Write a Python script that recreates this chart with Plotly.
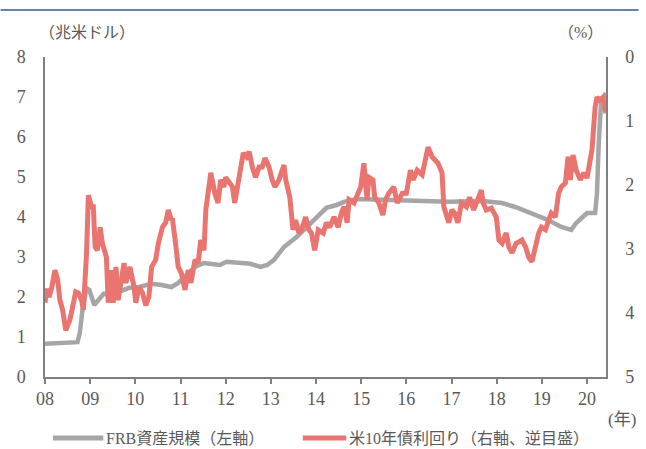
import plotly.graph_objects as go

# FRB total assets (trillion USD)
frb_year = [2008.00, 2008.40, 2008.72, 2008.77, 2008.83, 2008.92, 2008.98, 2009.09, 2009.16, 2009.30,
            2009.46, 2009.64, 2009.86, 2010.08, 2010.36, 2010.58, 2010.80, 2010.95, 2011.10, 2011.32,
            2011.52, 2011.87, 2012.02, 2012.26, 2012.55, 2012.77, 2012.92, 2013.07, 2013.29, 2013.57,
            2013.79, 2014.01, 2014.23, 2014.45, 2014.62, 2014.91, 2015.50, 2016.22, 2016.94, 2017.68,
            2018.12, 2018.41, 2018.78, 2019.13, 2019.43, 2019.65, 2019.76, 2019.87, 2020.00, 2020.18,
            2020.22, 2020.26, 2020.31, 2020.42]
frb_assets = [0.83, 0.84, 0.87, 1.10, 1.68, 2.22, 2.18, 1.80, 1.90, 2.08,
              2.05, 2.13, 2.23, 2.25, 2.33, 2.30, 2.25, 2.35, 2.50, 2.75,
              2.85, 2.80, 2.88, 2.85, 2.83, 2.75, 2.80, 2.93, 3.25, 3.50,
              3.75, 4.00, 4.23, 4.30, 4.38, 4.45, 4.43, 4.40, 4.38, 4.40,
              4.35, 4.25, 4.10, 3.93, 3.75, 3.68, 3.85, 3.98, 4.10, 4.10,
              4.60, 5.85, 6.85, 7.10]

# US 10-year Treasury yield (%)
ust_year = [2008.00, 2008.04, 2008.09, 2008.15, 2008.22, 2008.28, 2008.33, 2008.39, 2008.46, 2008.55,
            2008.61, 2008.68, 2008.74, 2008.81, 2008.85, 2008.92, 2008.96, 2009.03, 2009.07, 2009.11,
            2009.16, 2009.22, 2009.27, 2009.36, 2009.40, 2009.46, 2009.51, 2009.57, 2009.62, 2009.68,
            2009.75, 2009.79, 2009.88, 2009.97, 2010.01, 2010.08, 2010.16, 2010.23, 2010.30, 2010.36,
            2010.45, 2010.51, 2010.60, 2010.67, 2010.73, 2010.80, 2010.82, 2010.89, 2010.95, 2011.02,
            2011.10, 2011.17, 2011.23, 2011.32, 2011.39, 2011.45, 2011.52, 2011.56, 2011.63, 2011.67,
            2011.76, 2011.83, 2011.89, 2011.96, 2012.00, 2012.09, 2012.15, 2012.20, 2012.26, 2012.33,
            2012.39, 2012.46, 2012.52, 2012.59, 2012.66, 2012.74, 2012.81, 2012.87, 2012.96, 2013.03,
            2013.09, 2013.18, 2013.22, 2013.29, 2013.33, 2013.42, 2013.49, 2013.55, 2013.62, 2013.68,
            2013.77, 2013.84, 2013.90, 2013.97, 2014.05, 2014.16, 2014.23, 2014.30, 2014.40, 2014.49,
            2014.56, 2014.62, 2014.69, 2014.73, 2014.84, 2014.93, 2014.99, 2015.06, 2015.13, 2015.17,
            2015.26, 2015.30, 2015.39, 2015.48, 2015.54, 2015.61, 2015.72, 2015.80, 2015.91, 2016.00,
            2016.09, 2016.15, 2016.24, 2016.35, 2016.42, 2016.48, 2016.57, 2016.63, 2016.70, 2016.79,
            2016.83, 2016.90, 2016.94, 2017.01, 2017.07, 2017.14, 2017.22, 2017.33, 2017.40, 2017.49,
            2017.57, 2017.66, 2017.70, 2017.77, 2017.88, 2017.99, 2018.05, 2018.12, 2018.21, 2018.27,
            2018.34, 2018.43, 2018.49, 2018.56, 2018.64, 2018.71, 2018.78, 2018.86, 2018.93, 2018.99,
            2019.08, 2019.15, 2019.21, 2019.30, 2019.37, 2019.43, 2019.52, 2019.58, 2019.63, 2019.69,
            2019.76, 2019.85, 2019.93, 2020.00, 2020.07, 2020.11, 2020.18, 2020.22, 2020.28, 2020.35,
            2020.42]
ust_yield = [3.84, 3.62, 3.75, 3.60, 3.33, 3.48, 3.80, 3.95, 4.27, 4.11,
             3.91, 3.67, 3.69, 3.80, 3.95, 3.06, 2.16, 2.34, 2.34, 2.97,
             3.02, 2.66, 2.91, 3.13, 3.84, 3.33, 3.84, 3.28, 3.80, 3.48,
             3.22, 3.53, 3.28, 3.59, 3.84, 3.59, 3.69, 3.88, 3.75, 3.28,
             3.17, 2.91, 2.66, 2.59, 2.39, 2.55, 2.52, 2.91, 3.28, 3.38,
             3.64, 3.33, 3.53, 3.17, 3.22, 2.86, 3.02, 2.39, 2.08, 1.81,
             2.13, 2.28, 1.92, 2.03, 1.88, 1.97, 2.03, 2.28, 2.03, 1.77,
             1.50, 1.56, 1.48, 1.72, 1.88, 1.72, 1.72, 1.58, 1.72, 1.92,
             2.03, 1.92, 1.81, 1.69, 1.92, 2.19, 2.70, 2.55, 2.75, 2.70,
             2.50, 2.70, 2.75, 3.02, 2.70, 2.75, 2.59, 2.66, 2.50, 2.66,
             2.44, 2.34, 2.59, 2.23, 2.28, 2.13, 2.03, 1.66, 2.23, 1.88,
             1.92, 2.19, 2.28, 2.47, 2.23, 2.13, 2.03, 2.28, 2.13, 2.13,
             1.77, 1.92, 1.77, 1.84, 1.61, 1.41, 1.56, 1.61, 1.66, 1.81,
             2.34, 2.50, 2.59, 2.39, 2.44, 2.59, 2.28, 2.34, 2.19, 2.39,
             2.23, 2.08, 2.28, 2.39, 2.36, 2.50, 2.86, 2.91, 2.75, 2.97,
             3.06, 2.91, 2.89, 2.86, 2.97, 3.13, 3.20, 2.97, 2.75, 2.66,
             2.70, 2.55, 2.44, 2.50, 2.13, 2.03, 1.97, 1.56, 1.92, 1.53,
             1.77, 1.92, 1.81, 1.89, 1.56, 1.45, 0.78, 0.63, 0.67, 0.63,
             0.88]

year_ticks = [2008, 2009, 2010, 2011, 2012, 2013, 2014, 2015, 2016, 2017, 2018, 2019, 2020]
year_labels = ["08", "09", "10", "11", "12", "13", "14", "15", "16", "17", "18", "19", "20"]

series_names = ["FRB資産規模（左軸）", "米10年債利回り（右軸、逆目盛）"]
series_colors = ["#A6A6A6", "#E97470"]

FONT = "Liberation Serif, Noto Sans CJK JP, serif"
TXT = "#595959"
AX = "#808080"

# plot area geometry (pixels) for placing decorations
W, H = 646, 449
L, R, T, B = 45, 33, 57, 72
PW, PH = W - L - R, H - T - B


def px(xp):
    return (xp - L) / PW


def py(yp):
    return (H - B - yp) / PH


fig = go.Figure()
fig.add_trace(go.Scatter(x=frb_year, y=frb_assets, mode="lines", name=series_names[0],
                         line=dict(color=series_colors[0], width=4.5), yaxis="y"))
fig.add_trace(go.Scatter(x=ust_year, y=ust_yield, mode="lines", name=series_names[1],
                         line=dict(color=series_colors[1], width=5), yaxis="y2"))

legend_y = py(438)
shapes = [
    dict(type="line", xref="paper", yref="paper", x0=px(0), x1=px(W),
         y0=py(10), y1=py(10), line=dict(color="#6584A9", width=2)),
    dict(type="line", xref="paper", yref="paper", x0=px(53), x1=px(104),
         y0=legend_y, y1=legend_y, line=dict(color=series_colors[0], width=5)),
    dict(type="line", xref="paper", yref="paper", x0=px(306), x1=px(350),
         y0=legend_y, y1=legend_y, line=dict(color=series_colors[1], width=5)),
]

annotations = [
    dict(text="（兆米ドル）", xref="paper", yref="paper", x=px(37), y=py(32), xanchor="left",
         yanchor="middle", showarrow=False, font=dict(size=16, color=TXT)),
    dict(text="（%）", xref="paper", yref="paper", x=px(612), y=py(32), xanchor="right",
         yanchor="middle", showarrow=False, font=dict(size=16, color=TXT)),
    dict(text="(年)", xref="paper", yref="paper", x=px(645), y=py(419), xanchor="right",
         yanchor="middle", showarrow=False, font=dict(size=17, color=TXT)),
    dict(text=series_names[0], xref="paper", yref="paper", x=px(105), y=legend_y, xanchor="left",
         yanchor="middle", showarrow=False, font=dict(size=16, color=TXT)),
    dict(text=series_names[1], xref="paper", yref="paper", x=px(351), y=legend_y, xanchor="left",
         yanchor="middle", showarrow=False, font=dict(size=16, color=TXT)),
]

fig.update_layout(
    width=W, height=H,
    margin=dict(l=L, r=R, t=T, b=B),
    paper_bgcolor="white", plot_bgcolor="white",
    font=dict(family=FONT, size=16, color=TXT),
    showlegend=False,
    xaxis=dict(range=[2008, 2020.42], tickvals=year_ticks, ticktext=year_labels,
               showline=True, linecolor=AX, linewidth=1.5, ticks="outside", ticklen=5,
               tickcolor=AX, tickwidth=1.5, showgrid=False, zeroline=False,
               tickfont=dict(size=18, color=TXT)),
    yaxis=dict(range=[0, 8], dtick=1, showline=True, linecolor=AX, linewidth=1.5,
               showgrid=False, zeroline=False, ticks="", ticklabelstandoff=14,
               tickfont=dict(size=18, color=TXT)),
    yaxis2=dict(range=[5, 0], dtick=1, overlaying="y", side="right", showline=True,
                linecolor=AX, linewidth=1.5, showgrid=False, zeroline=False, ticks="",
                ticklabelstandoff=14, tickfont=dict(size=18, color=TXT)),
    annotations=annotations,
    shapes=shapes,
)

fig.write_html("out.html")
